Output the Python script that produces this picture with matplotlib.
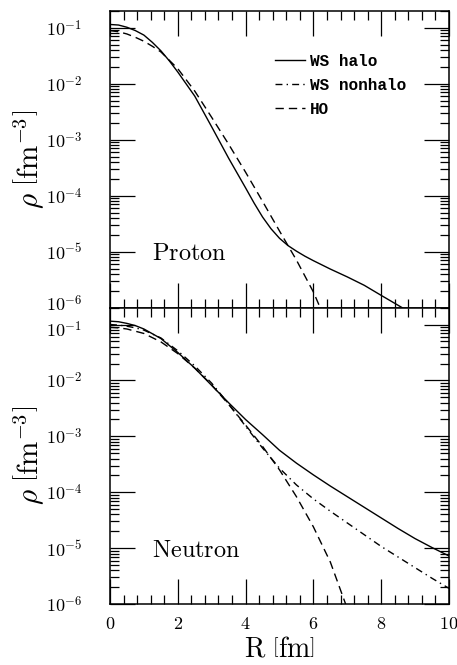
import numpy as np
import matplotlib
matplotlib.use('Agg')
import matplotlib.pyplot as plt
from matplotlib.ticker import MultipleLocator, LogLocator, FuncFormatter, NullFormatter
from matplotlib.transforms import ScaledTranslation

plt.rcParams['mathtext.fontset'] = 'cm'

# proton densities, log10(rho / fm^-3)
r_p_halo = [0, 0.25, 0.5, 0.75, 1, 1.25, 1.5, 1.75, 2, 2.5, 3, 3.5, 4, 4.25, 4.5,
            4.75, 5, 5.25, 5.5, 5.75, 6, 6.5, 7, 7.5, 8, 8.62]
lg_p_halo = [-0.94, -0.95, -0.99, -1.05, -1.13, -1.26, -1.41, -1.59, -1.79, -2.22,
             -2.77, -3.33, -3.86, -4.13, -4.38, -4.59, -4.76, -4.89, -4.99, -5.08,
             -5.16, -5.31, -5.45, -5.60, -5.78, -6.0]
r_p_ho = [0, 0.25, 0.5, 0.75, 1, 1.25, 1.5, 2, 2.5, 3, 3.5, 4, 4.5, 5, 5.5, 6, 6.2]
lg_p_ho = [-1.05, -1.07, -1.11, -1.17, -1.24, -1.33, -1.43, -1.73, -2.13, -2.60,
           -3.08, -3.58, -4.10, -4.63, -5.15, -5.72, -6.0]

# neutron densities
r_n = [0, 0.25, 0.5, 0.75, 1, 1.5, 2, 2.5, 3, 3.5, 4, 4.5, 5, 5.5, 6, 6.5, 7, 7.5,
       8, 8.5, 9, 9.5, 10]
lg_n_halo = [-0.94, -0.95, -0.98, -1.02, -1.08, -1.25, -1.50, -1.78, -2.09, -2.40,
             -2.70, -2.97, -3.25, -3.48, -3.69, -3.89, -4.08, -4.27, -4.46, -4.65,
             -4.83, -4.99, -5.14]
lg_n_nonhalo = [-1.0, -1.01, -1.03, -1.06, -1.10, -1.24, -1.47, -1.74, -2.05, -2.42,
                -2.82, -3.21, -3.57, -3.87, -4.12, -4.34, -4.55, -4.76, -4.97, -5.16,
                -5.35, -5.54, -5.72]
r_n_ho = [0, 0.25, 0.5, 0.75, 1, 1.5, 2, 2.5, 3, 3.5, 4, 4.5, 5, 5.5, 6, 6.5, 6.95]
lg_n_ho = [-1.05, -1.06, -1.08, -1.12, -1.16, -1.31, -1.52, -1.78, -2.08, -2.43,
           -2.80, -3.18, -3.60, -4.08, -4.62, -5.25, -6.0]

labels = ['WS halo', 'WS nonhalo', 'HO']

DASH = (6, 3.6)
DASHDOT = (5, 3, 1, 3)


def style_axes(ax):
    '''Mongo-like ticks on all four sides.'''
    ax.set_xlim(0, 10)
    ax.set_ylim(1e-6, 0.2)
    ax.set_yscale('log')
    ax.xaxis.set_major_locator(MultipleLocator(2))
    ax.xaxis.set_minor_locator(MultipleLocator(0.4))
    ax.yaxis.set_major_locator(LogLocator(base=10))
    ax.yaxis.set_minor_locator(LogLocator(base=10, subs=np.arange(2, 10)))
    ax.yaxis.set_minor_formatter(NullFormatter())
    ax.yaxis.set_major_formatter(
        FuncFormatter(lambda v, p: r'$\mathtt{10}^{\mathtt{%d}}$' % round(np.log10(v))))
    ax.xaxis.set_major_formatter(FuncFormatter(lambda v, p: r'$\mathtt{%d}$' % v))
    ax.tick_params(which='both', direction='in', top=True, right=True, width=0.9)
    ax.tick_params(which='major', length=18)
    ax.tick_params(which='minor', length=6.5)
    ax.tick_params(axis='y', which='major', pad=20, labelsize=13)
    ax.tick_params(axis='x', which='major', pad=8, labelsize=13)
    for sp in ax.spines.values():
        sp.set_linewidth(1.1)
    ax.set_ylabel(r'$\rho\ \left[\mathrm{fm}^{-3}\right]$', fontsize=21)
    ax.yaxis.set_label_coords(-0.19, 0.5)


fig = plt.figure(figsize=(4.57, 6.65), dpi=100)
ax1 = fig.add_axes([0.2407, 0.5373, 0.7418, 0.4462])
ax2 = fig.add_axes([0.2407, 0.0917, 0.7418, 0.4456])

# proton panel
ax1.plot(r_p_halo, 10 ** np.array(lg_p_halo), 'k-', lw=1.0, label=labels[0])
ax1.plot([], [], 'k', lw=1.0, dashes=DASHDOT, label=labels[1])
ax1.plot(r_p_ho, 10 ** np.array(lg_p_ho), 'k', lw=1.0, dashes=DASH, label=labels[2])
style_axes(ax1)
ax1.tick_params(axis='x', labelbottom=False)
ax1.text(0.124, 0.184, r'$\mathrm{Proton}$', transform=ax1.transAxes,
         fontsize=17.5, va='center', ha='left')
ax1.legend(loc='upper left', bbox_to_anchor=(0.487, 0.855), frameon=False,
           borderaxespad=0, borderpad=0, handlelength=1.9, handletextpad=0.3,
           labelspacing=0.55,
           prop={'family': 'Liberation Mono', 'size': 11.5, 'weight': 'bold'})

# neutron panel
ax2.plot(r_n, 10 ** np.array(lg_n_halo), 'k-', lw=1.0)
ax2.plot(r_n, 10 ** np.array(lg_n_nonhalo), 'k', lw=1.0, dashes=DASHDOT)
ax2.plot(r_n_ho, 10 ** np.array(lg_n_ho), 'k', lw=1.0, dashes=DASH)
style_axes(ax2)
ax2.text(0.124, 0.182, r'$\mathrm{Neutron}$', transform=ax2.transAxes,
         fontsize=17.5, va='center', ha='left')
ax2.set_xlabel(r'$\mathrm{R}\ \left[\mathrm{fm}\right]$', fontsize=20, labelpad=1)

# nudge the two stacked labels at the panel joint apart
fig.canvas.draw()
for tick in ax1.yaxis.get_major_ticks():
    if np.isclose(tick.get_loc(), 1e-6):
        tick.label1.set_transform(tick.label1.get_transform() +
                                  ScaledTranslation(0, 3 / 72, fig.dpi_scale_trans))
for tick in ax2.yaxis.get_major_ticks():
    if np.isclose(tick.get_loc(), 1e-1):
        tick.label1.set_transform(tick.label1.get_transform() +
                                  ScaledTranslation(0, -3 / 72, fig.dpi_scale_trans))

fig.savefig('out.png', dpi=100)
